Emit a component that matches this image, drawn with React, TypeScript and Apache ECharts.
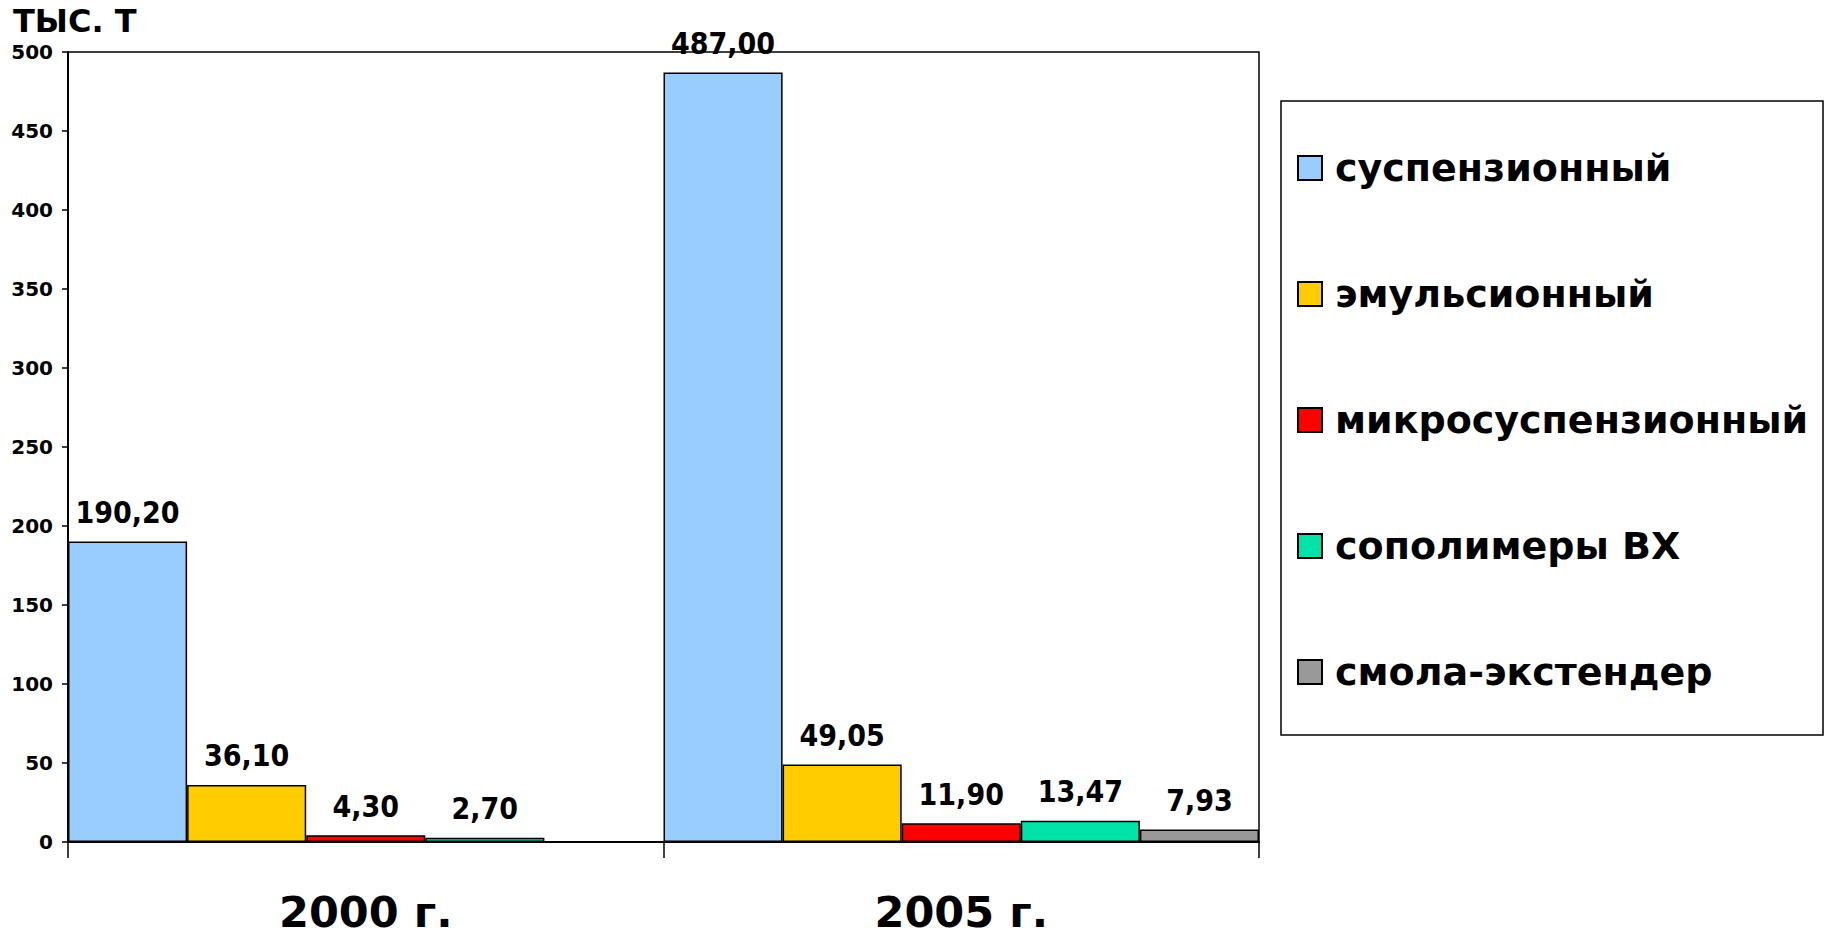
import React, { useEffect, useRef } from "react";
import * as echarts from "echarts";

const categories = ["2000 г.", "2005 г."];
const seriesNames = ["суспензионный", "эмульсионный", "микросуспензионный", "сополимеры ВХ", "смола-экстендер"];
const suspension = [190.2, 487.0];
const emulsion = [36.1, 49.05];
const microSuspension = [4.3, 11.9];
const copolymers = [2.7, 13.47];
const extender = [null, 7.93];
const colors = ["#99CCFF", "#FFCC00", "#FF0000", "#00E3A8", "#999999"];
const yTitle = "ТЫС. Т";

const FONT = "DejaVu Sans";
const FONT_COND = "'DejaVu Sans Condensed', 'DejaVu Sans'";

export default function App() {
  const ref = useRef<HTMLDivElement>(null);
  useEffect(() => {
    if (!ref.current) return;
    const chart = echarts.init(ref.current, null, { renderer: "svg" });
    const values = [suspension, emulsion, microSuspension, copolymers, extender];
    const series = values.map((data, i) => ({
      name: seriesNames[i],
      type: "bar",
      data,
      barGap: "0%",
      barCategoryGap: "0%",
      itemStyle: { color: colors[i], borderColor: "#000", borderWidth: 1.5 },
      label: {
        show: true,
        position: "top",
        distance: 14,
        color: "#000",
        fontFamily: FONT_COND,
        fontWeight: "bold",
        fontSize: 30,
        formatter: (p: any) => (p.value == null ? "" : Number(p.value).toFixed(2).replace(".", ",")),
      },
    }));
    chart.setOption({
      animation: false,
      backgroundColor: "#fff",
      textStyle: { fontFamily: FONT },
      title: {
        text: yTitle,
        left: 13,
        top: 5,
        padding: 0,
        textStyle: { fontFamily: FONT, fontWeight: "bold", fontSize: 32, color: "#000" },
      },
      grid: {
        left: 68,
        top: 52,
        right: 570,
        bottom: 95,
        show: true,
        borderColor: "#000",
        borderWidth: 1.5,
        backgroundColor: "#fff",
      },
      legend: {
        orient: "vertical",
        left: 1292,
        top: 144,
        itemGap: 88,
        itemWidth: 24,
        itemHeight: 24,
        icon: "rect",
        data: seriesNames,
        textStyle: {
          fontFamily: FONT,
          fontWeight: "bold",
          fontSize: 38,
          color: "#000",
          padding: [0, 0, 0, 8],
        },
      },
      graphic: [
        {
          type: "rect",
          shape: { x: 1281, y: 101, width: 542, height: 634 },
          style: { fill: "none", stroke: "#000", lineWidth: 1.5 },
          z: -1,
        },
      ],
      xAxis: {
        type: "category",
        data: categories,
        axisLine: { lineStyle: { color: "#000", width: 2 } },
        axisTick: { show: true, length: 16, lineStyle: { color: "#000", width: 1.5 } },
        axisLabel: {
          color: "#000",
          fontFamily: FONT,
          fontWeight: "bold",
          fontSize: 43,
          margin: 48,
        },
      },
      yAxis: {
        type: "value",
        min: 0,
        max: 500,
        interval: 50,
        splitLine: { show: false },
        axisLine: { show: true, lineStyle: { color: "#000", width: 2 } },
        axisTick: { show: true, length: 6, lineStyle: { color: "#000", width: 1.5 } },
        axisLabel: {
          color: "#000",
          fontFamily: FONT,
          fontWeight: "bold",
          fontSize: 20,
          margin: 15,
        },
      },
      series,
    });
    return () => chart.dispose();
  }, []);
  return (
    <div
      ref={ref}
      style={{ position: "fixed", left: 0, top: 0, width: 1829, height: 937, background: "#fff" }}
    />
  );
}
